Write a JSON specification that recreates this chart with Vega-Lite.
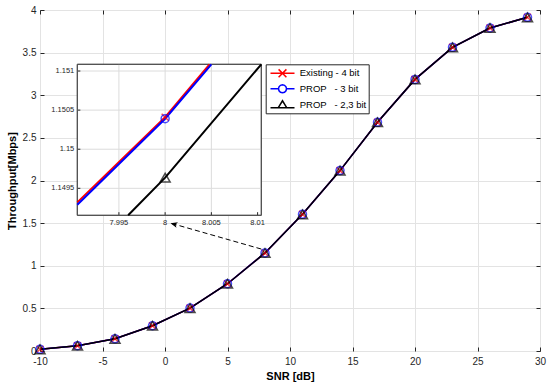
{
  "$schema": "https://vega.github.io/schema/vega-lite/v6.json",
  "width": 500,
  "height": 341,
  "autosize": "none",
  "padding": {"left": 40, "top": 10, "right": 10, "bottom": 36},
  "background": "white",
  "config": {
    "font": "Liberation Sans",
    "view": {"stroke": "#262626", "strokeWidth": 1},
    "axis": {
      "labelFont": "Liberation Sans",
      "labelColor": "#262626",
      "tickColor": "#262626",
      "gridColor": "#e3e3e3",
      "gridWidth": 1,
      "domain": false,
      "titleFont": "Liberation Sans",
      "titleColor": "#000000",
      "titleFontWeight": "bold",
      "titleFontSize": 11,
      "labelFlush": false,
      "labelOverlap": false
    }
  },
  "datasets": {
    "main": [
      {"series": "Existing - 4 bit", "snr": -10, "thr": 0.02},
      {"series": "Existing - 4 bit", "snr": -7, "thr": 0.062},
      {"series": "Existing - 4 bit", "snr": -4, "thr": 0.143},
      {"series": "Existing - 4 bit", "snr": -1, "thr": 0.296},
      {"series": "Existing - 4 bit", "snr": 2, "thr": 0.503},
      {"series": "Existing - 4 bit", "snr": 5, "thr": 0.789},
      {"series": "Existing - 4 bit", "snr": 8, "thr": 1.15041},
      {"series": "Existing - 4 bit", "snr": 11, "thr": 1.603},
      {"series": "Existing - 4 bit", "snr": 14, "thr": 2.116},
      {"series": "Existing - 4 bit", "snr": 17, "thr": 2.683},
      {"series": "Existing - 4 bit", "snr": 20, "thr": 3.186},
      {"series": "Existing - 4 bit", "snr": 23, "thr": 3.562},
      {"series": "Existing - 4 bit", "snr": 26, "thr": 3.789},
      {"series": "Existing - 4 bit", "snr": 29, "thr": 3.914},
      {"series": "PROP\u00a0\u00a0\u00a0- 3 bit", "snr": -10, "thr": 0.02},
      {"series": "PROP\u00a0\u00a0\u00a0- 3 bit", "snr": -7, "thr": 0.062},
      {"series": "PROP\u00a0\u00a0\u00a0- 3 bit", "snr": -4, "thr": 0.143},
      {"series": "PROP\u00a0\u00a0\u00a0- 3 bit", "snr": -1, "thr": 0.296},
      {"series": "PROP\u00a0\u00a0\u00a0- 3 bit", "snr": 2, "thr": 0.503},
      {"series": "PROP\u00a0\u00a0\u00a0- 3 bit", "snr": 5, "thr": 0.789},
      {"series": "PROP\u00a0\u00a0\u00a0- 3 bit", "snr": 8, "thr": 1.15039},
      {"series": "PROP\u00a0\u00a0\u00a0- 3 bit", "snr": 11, "thr": 1.603},
      {"series": "PROP\u00a0\u00a0\u00a0- 3 bit", "snr": 14, "thr": 2.116},
      {"series": "PROP\u00a0\u00a0\u00a0- 3 bit", "snr": 17, "thr": 2.683},
      {"series": "PROP\u00a0\u00a0\u00a0- 3 bit", "snr": 20, "thr": 3.186},
      {"series": "PROP\u00a0\u00a0\u00a0- 3 bit", "snr": 23, "thr": 3.562},
      {"series": "PROP\u00a0\u00a0\u00a0- 3 bit", "snr": 26, "thr": 3.789},
      {"series": "PROP\u00a0\u00a0\u00a0- 3 bit", "snr": 29, "thr": 3.914},
      {"series": "PROP\u00a0\u00a0\u00a0- 2,3 bit", "snr": -10, "thr": 0.02},
      {"series": "PROP\u00a0\u00a0\u00a0- 2,3 bit", "snr": -7, "thr": 0.062},
      {"series": "PROP\u00a0\u00a0\u00a0- 2,3 bit", "snr": -4, "thr": 0.143},
      {"series": "PROP\u00a0\u00a0\u00a0- 2,3 bit", "snr": -1, "thr": 0.296},
      {"series": "PROP\u00a0\u00a0\u00a0- 2,3 bit", "snr": 2, "thr": 0.503},
      {"series": "PROP\u00a0\u00a0\u00a0- 2,3 bit", "snr": 5, "thr": 0.789},
      {"series": "PROP\u00a0\u00a0\u00a0- 2,3 bit", "snr": 8, "thr": 1.149636},
      {"series": "PROP\u00a0\u00a0\u00a0- 2,3 bit", "snr": 11, "thr": 1.603},
      {"series": "PROP\u00a0\u00a0\u00a0- 2,3 bit", "snr": 14, "thr": 2.116},
      {"series": "PROP\u00a0\u00a0\u00a0- 2,3 bit", "snr": 17, "thr": 2.683},
      {"series": "PROP\u00a0\u00a0\u00a0- 2,3 bit", "snr": 20, "thr": 3.186},
      {"series": "PROP\u00a0\u00a0\u00a0- 2,3 bit", "snr": 23, "thr": 3.562},
      {"series": "PROP\u00a0\u00a0\u00a0- 2,3 bit", "snr": 26, "thr": 3.789},
      {"series": "PROP\u00a0\u00a0\u00a0- 2,3 bit", "snr": 29, "thr": 3.914}
    ],
    "inset": [
      {"series": "Existing - 4 bit", "snr": 7.9905, "thr": 1.14932},
      {"series": "Existing - 4 bit", "snr": 8, "thr": 1.15041},
      {"series": "Existing - 4 bit", "snr": 8.0048, "thr": 1.151086},
      {"series": "PROP\u00a0\u00a0\u00a0- 3 bit", "snr": 7.9905, "thr": 1.14929},
      {"series": "PROP\u00a0\u00a0\u00a0- 3 bit", "snr": 8, "thr": 1.15039},
      {"series": "PROP\u00a0\u00a0\u00a0- 3 bit", "snr": 8.005, "thr": 1.151086},
      {"series": "PROP\u00a0\u00a0\u00a0- 2,3 bit", "snr": 7.996, "thr": 1.149155},
      {"series": "PROP\u00a0\u00a0\u00a0- 2,3 bit", "snr": 8, "thr": 1.149636},
      {"series": "PROP\u00a0\u00a0\u00a0- 2,3 bit", "snr": 8.0104, "thr": 1.151086}
    ],
    "arrow": [{"x1": 7.7, "y1": 1.196, "x2": 0.44, "y2": 1.5}],
    "insetTicksX": [{"v": 7.995}, {"v": 8}, {"v": 8.005}, {"v": 8.01}],
    "insetGridX": [{"v": 7.995}, {"v": 8}, {"v": 8.005}],
    "insetGridY": [{"v": 1.1495}, {"v": 1.15}, {"v": 1.1505}, {"v": 1.151}],
    "box": [{"x0": 7.9905, "x1": 8.0104, "y0": 1.149155, "y1": 1.151086}]
  },
  "layer": [
    {
      "layer": [
        {
          "data": {"name": "main"},
          "mark": {"type": "line", "strokeWidth": 1.5},
          "encoding": {
            "x": {"field": "snr", "type": "quantitative", "scale": {"domain": [-10, 30], "nice": false, "zero": false},
              "axis": {"orient": "bottom", "title": "SNR [dB]", "values": [-10, -5, 0, 5, 10, 15, 20, 25, 30], "labelExpr": "'' + datum.value", "grid": true, "tickSize": -4, "labelPadding": 9, "labelFontSize": 10, "titlePadding": 4}},
            "y": {"field": "thr", "type": "quantitative", "scale": {"domain": [0, 4], "nice": false, "zero": false},
              "axis": {"orient": "left", "title": "Throughput[Mbps]", "values": [0, 0.5, 1, 1.5, 2, 2.5, 3, 3.5, 4], "labelExpr": "'' + datum.value", "grid": true, "tickSize": -4, "labelPadding": 8, "labelFontSize": 10, "titlePadding": 5}},
            "color": {"field": "series", "type": "nominal",
              "scale": {"domain": ["Existing - 4 bit", "PROP\u00a0\u00a0\u00a0- 3 bit", "PROP\u00a0\u00a0\u00a0- 2,3 bit"], "range": ["#ff0000", "#0000ff", "#000000"]},
              "legend": {
                "title": null, "orient": "none", "legendX": 225.7, "legendY": 54.3,
                "padding": 2, "fillColor": "white", "strokeColor": "#262626",
                "symbolSize": 144, "symbolStrokeWidth": 1.5,
                "labelFont": "Liberation Sans", "labelFontSize": 9.5, "labelColor": "#000000", "labelOffset": 18, "rowPadding": 0.5
              }}
          }
        },
        {
          "data": {"name": "main"},
          "transform": [{"filter": "datum.snr > 1000"}],
          "mark": {"type": "point", "filled": false, "strokeWidth": 1.5, "size": 144},
          "encoding": {
            "x": {"field": "snr", "type": "quantitative", "scale": {"domain": [-10, 30], "nice": false, "zero": false}, "axis": null},
            "y": {"field": "thr", "type": "quantitative", "scale": {"domain": [0, 4], "nice": false, "zero": false}, "axis": null},
            "color": {"field": "series", "type": "nominal", "legend": null},
            "shape": {"field": "series", "type": "nominal",
              "scale": {"domain": ["Existing - 4 bit", "PROP\u00a0\u00a0\u00a0- 3 bit", "PROP\u00a0\u00a0\u00a0- 2,3 bit"],
                "range": ["M-0.7,0L3.3,0M0.65,-0.65L1.95,0.65M0.65,0.65L1.95,-0.65", "M-0.7,0L0.63,0M1.97,0L3.3,0M1.97,0L1.88,0.335L1.635,0.58L1.3,0.67L0.965,0.58L0.72,0.335L0.63,0L0.72,-0.335L0.965,-0.58L1.3,-0.67L1.635,-0.58L1.88,-0.335Z", "M-0.7,0.4L3.3,0.4M0.6,0.4L1.3,-0.75L2,0.4Z"]},
              "legend": null}
          }
        },
        {
          "data": {"name": "main"},
          "transform": [{"filter": "indexof(datum.series, 'Existing') >= 0"}],
          "mark": {"type": "point", "filled": false, "strokeWidth": 1.5, "shape": "M-1,-1L1,1M-1,1L1,-1", "size": 49, "color": "#ff0000"},
          "encoding": {
            "x": {"field": "snr", "type": "quantitative", "scale": {"domain": [-10, 30], "nice": false, "zero": false}, "axis": null},
            "y": {"field": "thr", "type": "quantitative", "scale": {"domain": [0, 4], "nice": false, "zero": false}, "axis": null}
          }
        },
        {
          "data": {"name": "main"},
          "transform": [{"filter": "indexof(datum.series, '- 3 bit') >= 0"}],
          "mark": {"type": "point", "filled": false, "strokeWidth": 1.5, "shape": "circle", "size": 64, "color": "#0000ff"},
          "encoding": {
            "x": {"field": "snr", "type": "quantitative", "scale": {"domain": [-10, 30], "nice": false, "zero": false}, "axis": null},
            "y": {"field": "thr", "type": "quantitative", "scale": {"domain": [0, 4], "nice": false, "zero": false}, "axis": null}
          }
        },
        {
          "data": {"name": "main"},
          "transform": [{"filter": "indexof(datum.series, '2,3') >= 0"}],
          "mark": {"type": "point", "filled": false, "strokeWidth": 1.5, "shape": "triangle-up", "size": 100, "color": "#000000"},
          "encoding": {
            "x": {"field": "snr", "type": "quantitative", "scale": {"domain": [-10, 30], "nice": false, "zero": false}, "axis": null},
            "y": {"field": "thr", "type": "quantitative", "scale": {"domain": [0, 4], "nice": false, "zero": false}, "axis": null}
          }
        },
        {
          "data": {"name": "arrow"},
          "mark": {"type": "rule", "strokeDash": [5, 3], "strokeWidth": 1, "color": "#000000"},
          "encoding": {
            "x": {"field": "x1", "type": "quantitative", "scale": {"domain": [-10, 30], "nice": false, "zero": false}, "axis": null},
            "y": {"field": "y1", "type": "quantitative", "scale": {"domain": [0, 4], "nice": false, "zero": false}, "axis": null},
            "x2": {"field": "x2"},
            "y2": {"field": "y2"}
          }
        },
        {
          "data": {"name": "arrow"},
          "mark": {"type": "point", "shape": "M0,0L-0.4,1L0,0.75L0.4,1Z", "filled": true, "color": "#000000", "opacity": 1, "size": 196, "angle": 286},
          "encoding": {
            "x": {"field": "x2", "type": "quantitative", "scale": {"domain": [-10, 30], "nice": false, "zero": false}, "axis": null},
            "y": {"field": "y2", "type": "quantitative", "scale": {"domain": [0, 4], "nice": false, "zero": false}, "axis": null}
          }
        },
        {
          "data": {"name": "main"},
          "mark": {"type": "point", "opacity": 0},
          "encoding": {
            "x": {"field": "snr", "type": "quantitative", "scale": {"domain": [-10, 30], "nice": false, "zero": false},
              "axis": {"orient": "top", "labels": false, "title": null, "grid": false, "tickSize": -4, "values": [-10, -5, 0, 5, 10, 15, 20, 25, 30]}},
            "y": {"field": "thr", "type": "quantitative", "scale": {"domain": [0, 4], "nice": false, "zero": false},
              "axis": {"orient": "right", "labels": false, "title": null, "grid": false, "tickSize": -4, "values": [0, 0.5, 1, 1.5, 2, 2.5, 3, 3.5, 4]}}
          }
        }
      ],
      "resolve": {"axis": {"x": "independent", "y": "independent"}}
    },
    {
      "layer": [
        {
          "data": {"name": "box"},
          "mark": {"type": "rect", "fill": "white", "stroke": "#4d4d4d", "strokeWidth": 1},
          "encoding": {
            "x": {"field": "x0", "type": "quantitative", "scale": {"domain": [7.9905, 8.0104], "range": [37.3, 221.3], "nice": false, "zero": false}, "axis": null},
            "x2": {"field": "x1"},
            "y": {"field": "y0", "type": "quantitative", "scale": {"domain": [1.149155, 1.151086], "range": [205.3, 54.3], "nice": false, "zero": false}, "axis": null},
            "y2": {"field": "y1"}
          }
        },
        {
          "data": {"name": "insetGridX"},
          "mark": {"type": "rule", "color": "#dcdcdc", "strokeWidth": 1},
          "encoding": {
            "x": {"field": "v", "type": "quantitative", "axis": null},
            "y": {"datum": 1.149155, "type": "quantitative", "axis": null},
            "y2": {"datum": 1.151086}
          }
        },
        {
          "data": {"name": "insetGridY"},
          "mark": {"type": "rule", "color": "#dcdcdc", "strokeWidth": 1},
          "encoding": {
            "y": {"field": "v", "type": "quantitative", "axis": null},
            "x": {"datum": 7.9905, "type": "quantitative", "axis": null},
            "x2": {"datum": 8.0104}
          }
        },
        {
          "data": {"name": "insetTicksX"},
          "mark": {"type": "rule", "color": "#262626", "strokeWidth": 1},
          "encoding": {
            "x": {"field": "v", "type": "quantitative", "axis": null},
            "y": {"datum": 1.149155, "type": "quantitative", "axis": null},
            "y2": {"datum": 1.149195}
          }
        },
        {
          "data": {"name": "insetGridY"},
          "mark": {"type": "rule", "color": "#262626", "strokeWidth": 1},
          "encoding": {
            "y": {"field": "v", "type": "quantitative", "axis": null},
            "x": {"datum": 7.9905, "type": "quantitative", "axis": null},
            "x2": {"datum": 7.99083}
          }
        },
        {
          "data": {"name": "insetTicksX"},
          "mark": {"type": "text", "baseline": "top", "dy": 4, "fontSize": 7.5, "color": "#262626", "font": "Liberation Sans"},
          "encoding": {
            "x": {"field": "v", "type": "quantitative", "axis": null},
            "y": {"datum": 1.149155, "type": "quantitative", "axis": null},
            "text": {"field": "v", "type": "nominal"}
          }
        },
        {
          "data": {"name": "insetGridY"},
          "mark": {"type": "text", "align": "right", "baseline": "middle", "dx": -3, "fontSize": 7.5, "color": "#262626", "font": "Liberation Sans"},
          "encoding": {
            "y": {"field": "v", "type": "quantitative", "axis": null},
            "x": {"datum": 7.9905, "type": "quantitative", "axis": null},
            "text": {"field": "v", "type": "nominal"}
          }
        },
        {
          "data": {"name": "box"},
          "mark": {"type": "rect", "fill": null, "fillOpacity": 0, "stroke": "#4d4d4d", "strokeWidth": 1},
          "encoding": {
            "x": {"field": "x0", "type": "quantitative", "axis": null},
            "x2": {"field": "x1"},
            "y": {"field": "y0", "type": "quantitative", "axis": null},
            "y2": {"field": "y1"}
          }
        },
        {
          "data": {"name": "inset"},
          "mark": {"type": "line", "strokeWidth": 2},
          "encoding": {
            "x": {"field": "snr", "type": "quantitative", "axis": null},
            "y": {"field": "thr", "type": "quantitative", "axis": null},
            "color": {"field": "series", "type": "nominal", "legend": null}
          }
        },
        {
          "data": {"name": "inset"},
          "transform": [{"filter": "datum.snr == 8 && indexof(datum.series, 'Existing') >= 0"}],
          "mark": {"type": "point", "filled": false, "strokeWidth": 1.5, "shape": "M-1,-1L1,1M-1,1L1,-1", "size": 49, "color": "#ff0000"},
          "encoding": {
            "x": {"field": "snr", "type": "quantitative", "axis": null},
            "y": {"field": "thr", "type": "quantitative", "axis": null}
          }
        },
        {
          "data": {"name": "inset"},
          "transform": [{"filter": "datum.snr == 8 && indexof(datum.series, '- 3 bit') >= 0"}],
          "mark": {"type": "point", "filled": false, "strokeWidth": 1.5, "shape": "circle", "size": 64, "color": "#0000ff"},
          "encoding": {
            "x": {"field": "snr", "type": "quantitative", "axis": null},
            "y": {"field": "thr", "type": "quantitative", "axis": null}
          }
        },
        {
          "data": {"name": "inset"},
          "transform": [{"filter": "datum.snr == 8 && indexof(datum.series, '2,3') >= 0"}],
          "mark": {"type": "point", "filled": false, "strokeWidth": 1.5, "shape": "triangle-up", "size": 100, "color": "#000000"},
          "encoding": {
            "x": {"field": "snr", "type": "quantitative", "axis": null},
            "y": {"field": "thr", "type": "quantitative", "axis": null}
          }
        }
      ]
    }
  ],
  "resolve": {"scale": {"x": "independent", "y": "independent"}}
}
